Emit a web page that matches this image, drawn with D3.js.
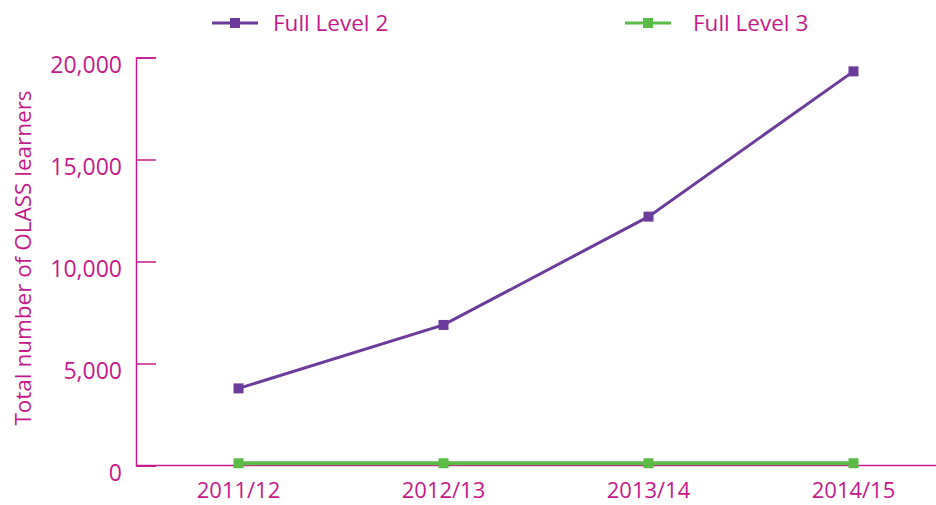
<!DOCTYPE html>
<html>
<head>
<meta charset="utf-8">
<script src="https://cdn.jsdelivr.net/npm/d3@7"></script>
<style>
  html, body { margin: 0; padding: 0; background: #fff; }
  svg { display: block; }
  text { font-family: "Open Sans", "Liberation Sans", sans-serif; }
</style>
</head>
<body>
<svg id="chart" width="936" height="505"></svg>
<script>
const categories = ["2011/12", "2012/13", "2013/14", "2014/15"];
const level2 = [3780, 6890, 12200, 19320];
const level3 = [110, 110, 110, 110];
const yTicks = [0, 5000, 10000, 15000, 20000];
const seriesNames = ["Full Level 2", "Full Level 3"];

const pink = "#C41A8C";
const purple = "#6B3C9B";
const green = "#5CBA47";

const svg = d3.select("#chart");
const W = 936, H = 505;
const x0 = 136, yBase = 465.5, yTop = 57.5;

const x = d3.scaleBand().domain(categories).range([x0, x0 + 205 * 4]);
const y = d3.scaleLinear().domain([0, 20000]).range([yBase, yTop]);

// Y axis
const yAxis = d3.axisRight(y).tickValues(yTicks).tickSize(20).tickFormat("");
const yg = svg.append("g").attr("transform", `translate(${x0},0)`).call(yAxis);
yg.select(".domain").attr("stroke", pink).attr("stroke-width", 1.5);
yg.selectAll(".tick line").attr("stroke", pink).attr("stroke-width", 1.5);

svg.append("g").selectAll("text").data(yTicks).join("text")
  .attr("x", 122).attr("y", d => y(d) + 15)
  .attr("text-anchor", "end")
  .attr("fill", pink).attr("font-size", 23)
  .text(d => d3.format(",")(d));

// X axis
const xAxis = d3.axisTop(x).tickSize(5).tickSizeOuter(0).tickFormat("");
const xg = svg.append("g").attr("transform", `translate(0,${yBase})`).call(xAxis);
xg.select(".domain").attr("stroke", pink).attr("stroke-width", 1.5)
  .attr("d", `M${x0},0H${W}`);
xg.selectAll(".tick line").attr("stroke", pink).attr("stroke-width", 1.5);

svg.append("g").selectAll("text").data(categories).join("text")
  .attr("x", d => x(d) + x.bandwidth() / 2).attr("y", 498)
  .attr("text-anchor", "middle")
  .attr("fill", pink).attr("font-size", 22)
  .text(d => d);

// Y title
svg.append("text")
  .attr("transform", `translate(31,${258}) rotate(-90)`)
  .attr("text-anchor", "middle")
  .attr("fill", pink).attr("font-size", 22.5)
  .text("Total number of OLASS learners");

const cx = d => x(d) + x.bandwidth() / 2;
const line = d3.line().x((d, i) => cx(categories[i])).y(d => y(d));

function drawSeries(vals, color, width) {
  svg.append("path").datum(vals)
    .attr("fill", "none").attr("stroke", color).attr("stroke-width", width)
    .attr("d", line);
  svg.append("g").selectAll("rect").data(vals).join("rect")
    .attr("x", (d, i) => cx(categories[i]) - 5)
    .attr("y", d => y(d) - 5)
    .attr("width", 10).attr("height", 10)
    .attr("fill", color);
}
drawSeries(level2, purple, 3);
drawSeries(level3, green, 4);

// Legend
const legend = [
  { name: seriesNames[0], color: purple, lx: 212, tx: 273 },
  { name: seriesNames[1], color: green, lx: 625, tx: 693 }
];
const lg = svg.append("g");
legend.forEach(l => {
  lg.append("line").attr("x1", l.lx).attr("x2", l.lx + 46)
    .attr("y1", 23).attr("y2", 23)
    .attr("stroke", l.color).attr("stroke-width", 3);
  lg.append("rect").attr("x", l.lx + 18).attr("y", 18)
    .attr("width", 10).attr("height", 10).attr("fill", l.color);
  lg.append("text").attr("x", l.tx).attr("y", 31)
    .attr("fill", pink).attr("font-size", 22.5).text(l.name);
});
</script>
</body>
</html>
